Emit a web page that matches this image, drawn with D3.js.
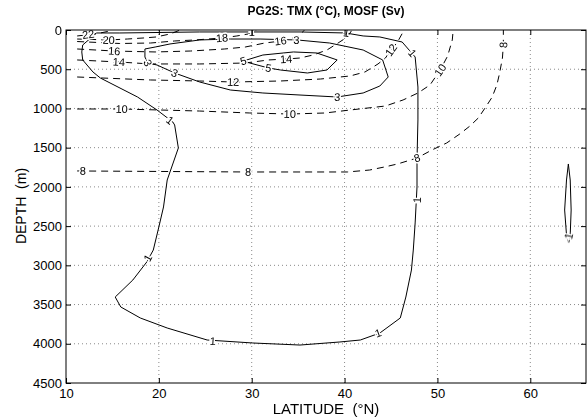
<!DOCTYPE html>
<html>
<head>
<meta charset="utf-8">
<script src="https://cdn.jsdelivr.net/npm/d3@7"></script>
<style>
body { margin: 0; background: #fff; }
text { font-family: "Liberation Sans", Arial, sans-serif; }
</style>
</head>
<body>
<div id="chart"></div>
<script>
// axis ticks
var latTicks = [10, 20, 30, 40, 50, 60];
var depthTicks = [0, 500, 1000, 1500, 2000, 2500, 3000, 3500, 4000, 4500];

// TMX contours (deg C), [latitude, depth]
var tmx22 = [[11.2,76],[12.4,60],[13.7,38],[14.7,13],[15.0,0]];
var tmx20 = [[11.2,115],[14.6,127],[16.6,115],[18.3,102],[19.7,89],[21.2,51],[22.3,0]];
var tmx18 = [[11.2,147],[15.8,172],[19.1,166],[21.7,140],[23.9,127],[26.8,102],[28.4,76],[29.6,51],[30.5,0]];
var tmx16 = [[11.2,242],[15.2,268],[19.6,280],[23.4,268],[27.1,242],[29.3,217],[31.4,166],[33.2,140],[34.9,89],[35.7,0]];
var tmx14 = [[11.2,382],[15.7,408],[19.1,433],[24.4,433],[29.3,421],[31.8,382],[33.7,370],[35.2,357],[36.6,319],[38.1,255],[39.3,166],[40.3,89],[40.8,0]];
var tmx12 = [[11.2,599],[19.1,637],[24.4,650],[28.0,663],[33.1,650],[37.4,625],[40.6,586],[42.2,535],[43.6,433],[44.4,357],[45.0,255],[45.7,153],[46.3,25],[46.5,0]];
var tmx10 = [[11.2,1007],[15.9,1007],[24.4,1033],[29.8,1058],[34.1,1071],[37.9,1058],[40.6,1020],[44.4,969],[46.3,892],[47.9,803],[49.2,701],[50.3,510],[51.1,331],[51.6,127],[51.7,0]];
var tmx8 = [[11.2,1797],[29.6,1810],[40.3,1810],[42.7,1785],[44.3,1746],[45.7,1708],[47.8,1632],[49.4,1530],[51.0,1440],[52.4,1326],[53.5,1224],[54.4,1122],[55.2,982],[55.9,854],[56.4,701],[56.7,548],[57.0,357],[57.1,191],[57.1,0]];

var tmxLevels = [22, 20, 18, 16, 14, 12, 10, 8];
var tmxLines = [tmx22, tmx20, tmx18, tmx16, tmx14, tmx12, tmx10, tmx8];
var tmxLabels = [
  [22, 12.4, 55],
  [20, 14.6, 127],
  [18, 26.8, 102],
  [16, 15.2, 268], [16, 33.1, 140],
  [14, 15.7, 408], [14, 33.7, 370],
  [12, 28.0, 663], [12, 45.0, 255],
  [10, 16.0, 1007], [10, 34.1, 1071], [10, 50.3, 510],
  [8, 11.8, 1797], [8, 29.6, 1810], [8, 47.8, 1632], [8, 57.1, 191]
];

// MOSF contours (Sv), closed loops, [latitude, depth]
var mosf1 = [[13.3,38],[11.8,191],[11.7,280],[11.8,382],[12.9,535],[13.7,612],[17.7,854],[19.8,1020],[21.5,1173],[21.7,1211],[22.1,1504],[21.2,1810],[20.9,1912],[20.5,2256],[20.0,2511],[19.4,2805],[18.7,2957],[17.2,3187],[15.3,3404],[15.9,3531],[18.0,3671],[20.9,3799],[25.2,3952],[30.1,3990],[35.2,4016],[39.5,3977],[41.7,3952],[43.8,3863],[46.0,3671],[46.6,3404],[47.2,3060],[47.4,2805],[47.6,2460],[47.8,2001],[47.8,1657],[47.9,1147],[47.9,727],[47.6,344],[46.2,153],[43.8,89],[42.0,76],[40.1,38],[35.2,25],[24.4,25],[15.8,38],[13.3,38]];
var mosf3 = [[18.5,242],[18.5,344],[18.8,421],[19.8,446],[21.7,548],[24.4,663],[27.7,765],[31.2,803],[35.2,829],[39.2,854],[42.0,803],[43.8,714],[44.7,599],[44.1,382],[42.0,255],[38.4,166],[34.9,127],[30.9,115],[27.7,115],[24.4,127],[21.2,178],[19.6,217],[18.5,242]];
var mosf5 = [[29.1,395],[31.2,319],[34.5,280],[37.0,293],[39.2,382],[38.1,510],[36.0,548],[33.1,510],[31.8,484],[29.8,421],[29.1,395]];
var mosfM1 = [[64.1,1708],[64.3,1912],[64.4,2295],[64.3,2613],[64.1,2715],[63.9,2613],[63.7,2295],[63.9,1912],[64.1,1708]];

var mosfLevels = [1, 3, 5, -1];
var mosfLines = [mosf1, mosf3, mosf5, mosfM1];
var mosfLabels = [
  [1, 30.0, 30], [1, 40.2, 35], [1, 47.3, 293], [1, 47.8, 2167], [1, 43.6, 3863],
  [1, 25.8, 3965], [1, 18.8, 2907], [1, 21.2, 1150],
  [3, 18.8, 421], [3, 21.7, 548], [3, 39.2, 854], [3, 34.8, 127],
  [5, 29.1, 395], [5, 31.8, 484],
  [-1, 64.1, 2650]
];

var w = 587, h = 419;
var pl = 66, pr = 586, pt = 30, pb = 383;

var x = d3.scaleLinear().domain([10, 66]).range([pl, pr]);
var y = d3.scaleLinear().domain([0, 4500]).range([pt, pb]);

var svg = d3.select("#chart").append("svg")
  .attr("width", w)
  .attr("height", h);

svg.append("clipPath").attr("id", "clip")
  .append("rect")
  .attr("x", pl).attr("y", pt)
  .attr("width", pr - pl).attr("height", pb - pt);

// grid
svg.selectAll("line.gx")
  .data(latTicks.slice(1))
  .enter().append("line")
  .attr("x1", function(d) { return x(d); })
  .attr("x2", function(d) { return x(d); })
  .attr("y1", pt).attr("y2", pb)
  .attr("stroke", "#8a8a8a")
  .attr("stroke-dasharray", "1,3");

svg.selectAll("line.gy")
  .data(depthTicks.slice(1, -1))
  .enter().append("line")
  .attr("y1", function(d) { return y(d); })
  .attr("y2", function(d) { return y(d); })
  .attr("x1", pl).attr("x2", pr)
  .attr("stroke", "#8a8a8a")
  .attr("stroke-dasharray", "1,3");

var line = d3.line()
  .x(function(d) { return x(d[0]); })
  .y(function(d) { return y(d[1]); });

var g = svg.append("g").attr("clip-path", "url(#clip)");

g.selectAll("path.tmx")
  .data(tmxLines)
  .enter().append("path")
  .attr("d", line)
  .attr("fill", "none")
  .attr("stroke", "#000")
  .attr("stroke-width", 1)
  .attr("stroke-dasharray", "7,5");

g.selectAll("path.mosf")
  .data(mosfLines)
  .enter().append("path")
  .attr("d", line)
  .attr("fill", "none")
  .attr("stroke", "#000")
  .attr("stroke-width", 1);

// angle of the contour near a label
function angleAt(pts, lat, dep) {
  var px = x(lat), py = y(dep), best = 1e9, ang = 0;
  for (var i = 0; i < pts.length - 1; i++) {
    var x1 = x(pts[i][0]), y1 = y(pts[i][1]);
    var x2 = x(pts[i+1][0]), y2 = y(pts[i+1][1]);
    var dx = x2 - x1, dy = y2 - y1;
    var t = ((px - x1) * dx + (py - y1) * dy) / (dx * dx + dy * dy || 1);
    t = Math.max(0, Math.min(1, t));
    var ex = x1 + t * dx - px, ey = y1 + t * dy - py;
    var dd = ex * ex + ey * ey;
    if (dd < best) { best = dd; ang = Math.atan2(dy, dx) * 180 / Math.PI; }
  }
  if (ang > 90) ang -= 180;
  if (ang <= -90) ang += 180;
  return ang;
}

var lg = g.append("g").style("opacity", 0.999);

function drawLabels(labels, levels, lines) {
  lg.selectAll(null)
    .data(labels)
    .enter().append("text")
    .attr("transform", function(d) {
      var pts = lines[levels.indexOf(d[0])];
      return "translate(" + x(d[1]) + "," + y(d[2]) + ") rotate(" + angleAt(pts, d[1], d[2]) + ")";
    })
    .attr("text-anchor", "middle")
    .attr("dy", "0.35em")
    .attr("font-size", "11px")
    .attr("stroke", "#fff")
    .attr("stroke-width", 3)
    .attr("paint-order", "stroke")
    .attr("fill", "#000")
    .text(function(d) { return d[0]; });
}

drawLabels(tmxLabels, tmxLevels, tmxLines);
drawLabels(mosfLabels, mosfLevels, mosfLines);

// axes with inward ticks on all sides
svg.append("g")
  .attr("transform", "translate(0," + pb + ")")
  .call(d3.axisBottom(x).tickValues(latTicks).tickFormat(d3.format("d")).tickSizeInner(-5).tickSizeOuter(0).tickPadding(6))
  .call(function(a) { a.select(".domain").remove(); });

svg.append("g")
  .attr("transform", "translate(0," + pt + ")")
  .call(d3.axisTop(x).tickValues(latTicks).tickSizeInner(-5).tickSizeOuter(0).tickFormat(""))
  .call(function(a) { a.select(".domain").remove(); });

svg.append("g")
  .attr("transform", "translate(" + pl + ",0)")
  .call(d3.axisLeft(y).tickValues(depthTicks).tickFormat(d3.format("d")).tickSizeInner(-5).tickSizeOuter(0).tickPadding(4))
  .call(function(a) { a.select(".domain").remove(); });

svg.append("g")
  .attr("transform", "translate(" + pr + ",0)")
  .call(d3.axisRight(y).tickValues(depthTicks).tickSizeInner(-5).tickSizeOuter(0).tickFormat(""))
  .call(function(a) { a.select(".domain").remove(); });

svg.selectAll(".tick text")
  .attr("font-family", "Liberation Sans, Arial, sans-serif")
  .attr("font-size", "13px")
  .attr("fill", "#000");
svg.selectAll(".tick line").attr("stroke", "#000");

svg.append("rect")
  .attr("x", pl).attr("y", pt)
  .attr("width", pr - pl).attr("height", pb - pt)
  .attr("fill", "none")
  .attr("stroke", "#000")
  .attr("stroke-width", 1);

svg.append("text")
  .attr("x", 326).attr("y", 15)
  .attr("text-anchor", "middle")
  .attr("font-size", "12px")
  .attr("font-weight", "bold")
  .text("PG2S: TMX (°C), MOSF (Sv)");

svg.append("text")
  .attr("x", 326).attr("y", 414)
  .attr("text-anchor", "middle")
  .attr("font-size", "15px")
  .attr("xml:space", "preserve")
  .text("LATITUDE  (°N)");

svg.append("text")
  .attr("transform", "translate(26,206) rotate(-90)")
  .attr("text-anchor", "middle")
  .attr("font-size", "14px")
  .attr("xml:space", "preserve")
  .text("DEPTH  (m)");
</script>
</body>
</html>
